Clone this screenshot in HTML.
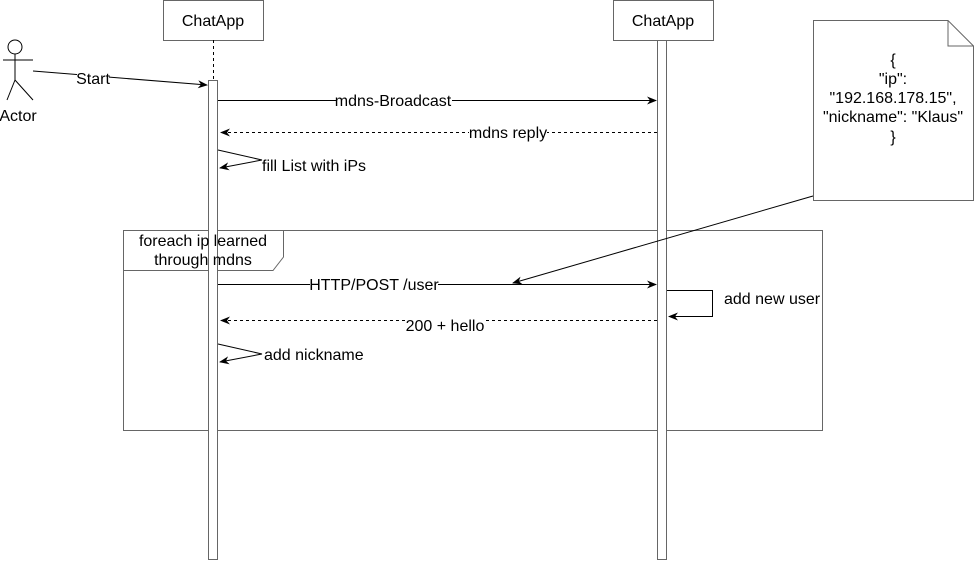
<!DOCTYPE html>
<html><head><meta charset="utf-8"><style>
html,body{margin:0;padding:0;background:#fff;}
svg{display:block;}
text{font-family:"Liberation Sans",Helvetica,Arial,sans-serif;font-size:16px;fill:#000;}
</style></head><body>
<svg width="974" height="561" viewBox="0 0 974 561" xmlns="http://www.w3.org/2000/svg">
<defs>
<marker id="a" viewBox="0 0 10 10" refX="9" refY="5" markerWidth="10" markerHeight="10" orient="auto" markerUnits="userSpaceOnUse">
<path d="M0,1 L10,5 L0,9 L3,5 Z" fill="#000"/>
</marker>
</defs>
<g fill="none" stroke="#000" stroke-width="1">
<circle cx="15" cy="47" r="7"/>
<line x1="15" y1="54" x2="15" y2="80"/>
<line x1="3" y1="60" x2="33" y2="60"/>
<line x1="15" y1="80" x2="7" y2="100"/>
<line x1="15" y1="80" x2="33" y2="100"/>
</g>
<text x="18" y="121" text-anchor="middle">Actor</text>

<rect x="163.5" y="0.5" width="100" height="40" fill="#fff" stroke="#666"/>
<text x="213" y="26" text-anchor="middle">ChatApp</text>
<rect x="613.5" y="0.5" width="100" height="40" fill="#fff" stroke="#666"/>
<text x="663" y="26" text-anchor="middle">ChatApp</text>
<line x1="213.5" y1="40" x2="213.5" y2="80" stroke="#000" stroke-dasharray="3,3"/>

<rect x="123.5" y="230.5" width="699" height="200" fill="none" stroke="#666"/>
<path d="M123.5,230.5 H283.5 V257 L273,270.5 H123.5 Z" fill="#fff" stroke="#666"/>

<rect x="208.5" y="80.5" width="9" height="479" fill="#fff" stroke="#666"/>
<rect x="657.5" y="40.5" width="9" height="519" fill="#fff" stroke="#666"/>

<text x="203" y="246" text-anchor="middle">foreach ip learned</text>
<text x="203" y="265" text-anchor="middle">through mdns</text>

<path d="M813.5,20.5 H948 L973.5,46 V200.5 H813.5 Z" fill="#fff" stroke="#666"/>
<path d="M948,20.5 V46 H973.5" fill="none" stroke="#666"/>
<text x="893" y="65" text-anchor="middle">{</text>
<text x="893" y="84" text-anchor="middle">"ip":</text>
<text x="893" y="103" text-anchor="middle">"192.168.178.15",</text>
<text x="893" y="122" text-anchor="middle">"nickname": "Klaus"</text>
<text x="893" y="142" text-anchor="middle">}</text>

<g fill="none" stroke="#000">
<line x1="33" y1="71" x2="207" y2="85" marker-end="url(#a)"/>
<line x1="218" y1="100.5" x2="656" y2="100.5" marker-end="url(#a)"/>
<line x1="657" y1="132.5" x2="221" y2="132.5" stroke-dasharray="3,3" marker-end="url(#a)"/>
<polyline points="218,150 262,160 220,168" marker-end="url(#a)"/>
<line x1="218" y1="284.5" x2="656" y2="284.5" marker-end="url(#a)"/>
<line x1="813" y1="196" x2="513" y2="283" marker-end="url(#a)"/>
<polyline points="667,290.5 712.5,290.5 712.5,316.5 669,316.5" marker-end="url(#a)"/>
<line x1="657" y1="320.5" x2="221" y2="320.5" stroke-dasharray="3,3" marker-end="url(#a)"/>
<polyline points="218,344 262,354 220,362" marker-end="url(#a)"/>
</g>

<rect x="77" y="70" width="32" height="16" fill="#fff"/>
<text x="93" y="84" text-anchor="middle">Start</text>
<rect x="336" y="92" width="116" height="16" fill="#fff"/>
<text x="393" y="106" text-anchor="middle">mdns-Broadcast</text>
<rect x="469" y="124" width="78" height="16" fill="#fff"/>
<text x="508" y="138" text-anchor="middle">mdns reply</text>
<text x="262" y="171">fill List with iPs</text>
<rect x="310" y="276" width="128" height="16" fill="#fff"/>
<text x="374" y="290" text-anchor="middle">HTTP/POST /user</text>
<text x="724" y="304">add new user</text>
<rect x="406" y="312" width="78" height="16" fill="#fff"/>
<text x="445" y="331" text-anchor="middle">200 + hello</text>
<text x="264" y="360">add nickname</text>
</svg>
</body></html>
